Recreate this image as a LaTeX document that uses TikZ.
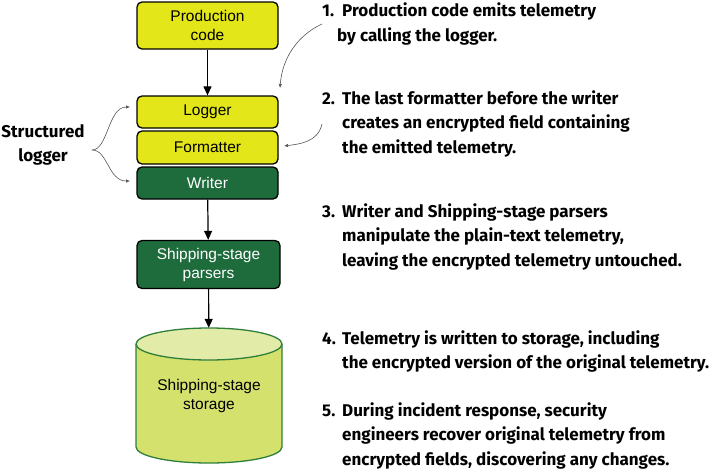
\documentclass[tikz,border=0pt]{standalone}
\usepackage{fontspec}
\setmainfont{Liberation Sans}
\newfontfamily\notefont{Fira Sans}
\usetikzlibrary{arrows.meta}
\definecolor{boxyellow}{HTML}{E3E619}
\definecolor{boxgreen}{HTML}{1E6B3C}
\definecolor{storefill}{HTML}{D4E16C}
\definecolor{storetop}{HTML}{E3EBA8}
\definecolor{storeline}{HTML}{2F7F3C}
\definecolor{pointgray}{HTML}{555555}
\tikzstyle{stagey}=[draw=black,line width=1.3pt,rounded corners=5pt,fill=boxyellow,minimum width=141pt,align=center,inner sep=0pt,font=\fontsize{15.5}{19}\selectfont]
\tikzstyle{stageg}=[stagey,fill=boxgreen,text=white]
\tikzstyle{note}=[anchor=west,inner sep=0pt,font=\notefont\bfseries\fontsize{17}{24.5}\selectfont]
\tikzstyle{flow}=[line width=1.2pt,-{Triangle[length=9pt,width=8pt]}]
\tikzstyle{pointer}=[pointgray,line width=0.6pt,-{Latex[length=4pt,width=3.5pt]}]

\begin{document}
\begin{tikzpicture}[x=1pt,y=-1pt]
    \useasboundingbox (0,0) rectangle (718,474);
    \node[stagey,minimum height=47pt] (prod) at (207.5,25.5) {Production\\code};
    \node[stagey,minimum height=32pt] (logger) at (207.5,112) {Logger};
    \node[stagey,minimum height=33pt] (fmt) at (207.5,147.5) {Formatter};
    \node[stageg,minimum height=32pt] (writer) at (207.5,183) {Writer};
    \node[stageg,minimum height=48pt,minimum width=143pt] (parsers) at (208.5,264.5) {Shipping-stage\\parsers};

    % storage drum
    \fill[storefill] (136,344) -- (136,447) arc[start angle=180,end angle=360,x radius=73pt,y radius=16pt] -- (282,344) -- cycle;
    \draw[storeline,line width=1.3pt] (136,344) -- (136,447) arc[start angle=180,end angle=360,x radius=73pt,y radius=16pt] -- (282,344);
    \filldraw[fill=storetop,draw=storeline,line width=1.3pt] (209,344) ellipse[x radius=73pt,y radius=16pt];
    \node[minimum width=146pt,minimum height=135pt,align=center,font=\fontsize{15.5}{19}\selectfont] (storage) at (209,395.5) {Shipping-stage\\storage};

    \foreach \from/\to in {prod/logger,writer/parsers,parsers/storage}
    \draw[flow] (\from) -- (\to);

    % side notes
    \node[note] (note1) at (322,24) {\begin{tabular}{@{}p{20pt}@{}l@{}}1. & Production code emits telemetry\\ & \hspace*{-5pt}by calling the logger.\end{tabular}};
    \node[note] (note2) at (322,124) {\begin{tabular}{@{}p{20pt}@{}l@{}}2. & The last formatter before the writer\\ & creates an encrypted field containing\\ & the emitted telemetry.\end{tabular}};
    \node[note] (note3) at (322,237) {\begin{tabular}{@{}p{20pt}@{}l@{}}3. & Writer and Shipping-stage parsers\\ & manipulate the plain-text telemetry,\\ & leaving the encrypted telemetry untouched.\end{tabular}};
    \node[note] (note4) at (322,351.5) {\begin{tabular}{@{}p{20pt}@{}l@{}}4. & Telemetry is written to storage, including\\ & the encrypted version of the original telemetry.\end{tabular}};
    \node[note] (note5) at (322,436) {\begin{tabular}{@{}p{20pt}@{}l@{}}5. & During incident response, security\\ & engineers recover original telemetry from\\ & encrypted fields, discovering any changes.\end{tabular}};
    \node[note,anchor=center,align=center] (slog) at (43,145) {Structured\\logger};

    \coordinate (hit1) at (280,88);
    \coordinate (hit2) at (284,146);
    \coordinate (fork) at (92,150);
    \coordinate (hitup) at (130,107);
    \coordinate (hitdown) at (130,181);
    \draw[pointer] (note1.west) .. controls (296,36) and (282,60) .. (hit1);
    \draw[pointer] (note2.west) .. controls (318,142) and (300,144) .. (hit2);
    \draw[pointer] (fork) .. controls (108,150) and (108,107) .. (hitup);
    \draw[pointer] (fork) .. controls (108,150) and (108,181) .. (hitdown);
\end{tikzpicture}
\end{document}
